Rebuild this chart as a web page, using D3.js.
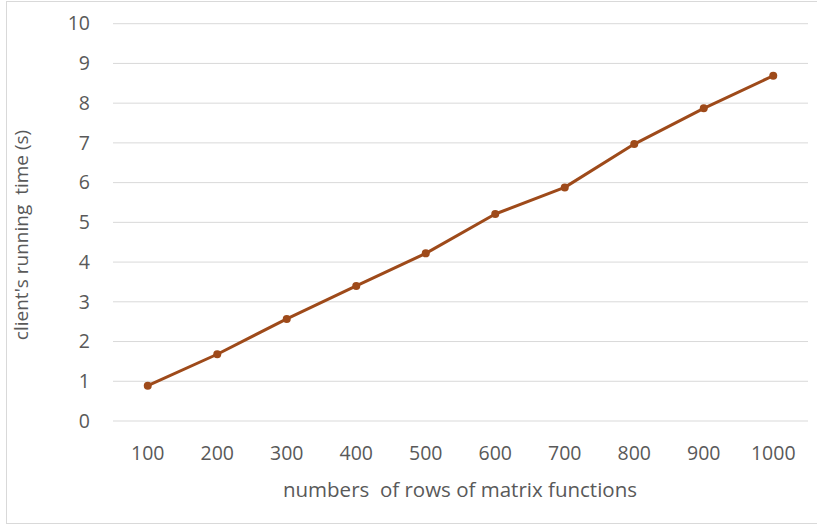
<!DOCTYPE html>
<html>
<head>
<meta charset="utf-8">
<script src="https://cdn.jsdelivr.net/npm/d3@7"></script>
<style>
  html, body { margin: 0; padding: 0; background: #fff; }
  svg { display: block; }
  text { font-family: "Open Sans", sans-serif; fill: #595959; }
</style>
</head>
<body>
<svg id="chart" width="817" height="526"></svg>
<script>
const categories = ["100", "200", "300", "400", "500", "600", "700", "800", "900", "1000"];
const values = [0.89, 1.68, 2.57, 3.40, 4.22, 5.21, 5.88, 6.97, 7.87, 8.69];
const yTicks = [0, 1, 2, 3, 4, 5, 6, 7, 8, 9, 10];
const xTitle = "numbers  of rows of matrix functions";
const yTitle = "client's running  time (s)";

const svg = d3.select("#chart");
const W = 817, H = 526;
const plot = { left: 113, right: 808, top: 23.7, bottom: 421 };

// outer border
svg.append("rect")
  .attr("x", 6.5).attr("y", 1.5)
  .attr("width", W + 10).attr("height", 522)
  .attr("fill", "#fff").attr("stroke", "#d9d9d9").attr("stroke-width", 1);

const x = d3.scaleBand().domain(categories).range([plot.left, plot.right]);
const y = d3.scaleLinear().domain([0, 10]).range([plot.bottom, plot.top]);

// gridlines
svg.append("g")
  .selectAll("line").data(yTicks).join("line")
  .attr("x1", plot.left).attr("x2", plot.right)
  .attr("y1", d => y(d)).attr("y2", d => y(d))
  .attr("stroke", "#d9d9d9").attr("stroke-width", 1);

// y axis labels
const yAxis = d3.axisLeft(y).tickValues(yTicks).tickSize(0).tickPadding(0);
const gy = svg.append("g").attr("transform", `translate(90,0)`).call(yAxis);
gy.select(".domain").remove();
gy.selectAll("text").attr("font-size", 19.5).attr("fill", "#595959")
  .style("font-family", "'Open Sans', sans-serif");

// x axis labels
const xAxis = d3.axisBottom(x).tickSize(0).tickPadding(0);
const gx = svg.append("g").attr("transform", `translate(0,446)`).call(xAxis);
gx.select(".domain").remove();
gx.selectAll("text").attr("font-size", 19.5).attr("fill", "#595959")
  .style("font-family", "'Open Sans', sans-serif");

// axis titles
svg.append("text")
  .attr("x", 460).attr("y", 497)
  .attr("text-anchor", "middle").attr("font-size", 20.5)
  .style("white-space", "pre")
  .attr("xml:space", "preserve")
  .text(xTitle);

svg.append("text")
  .attr("transform", "translate(28,235) rotate(-90)")
  .attr("text-anchor", "middle").attr("font-size", 19)
  .attr("xml:space", "preserve")
  .style("white-space", "pre")
  .text(yTitle);

const color = "#9E4A1A";
const pts = categories.map((c, i) => ({ c, v: values[i] }));
const line = d3.line().x(d => x(d.c) + x.bandwidth() / 2).y(d => y(d.v));

svg.append("path").datum(pts)
  .attr("d", line).attr("fill", "none")
  .attr("stroke", color).attr("stroke-width", 3)
  .attr("stroke-linejoin", "round").attr("stroke-linecap", "round");

svg.append("g").selectAll("circle").data(pts).join("circle")
  .attr("cx", d => x(d.c) + x.bandwidth() / 2)
  .attr("cy", d => y(d.v))
  .attr("r", 4).attr("fill", color);
</script>
</body>
</html>
